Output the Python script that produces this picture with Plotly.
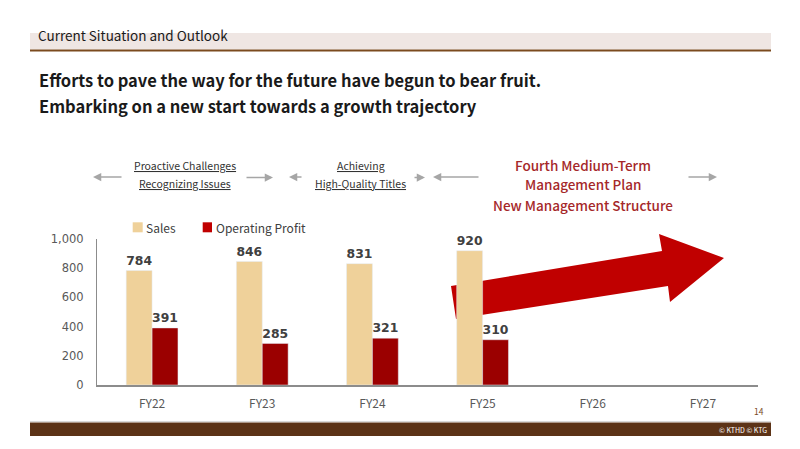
import plotly.graph_objects as go

categories = ["FY22", "FY23", "FY24", "FY25", "FY26", "FY27"]
sales = [784, 846, 831, 920, None, None]
operating_profit = [391, 285, 321, 310, None, None]
y_ticks = [0, 200, 400, 600, 800, 1000]
y_tick_labels = ["0", "200", "400", "600", "800", "1,000"]

W, H = 800, 449
L, R, T, B = 97, 758, 239, 385


def px(x):
    return (x - L) / (R - L)


def py(y):
    return (B - y) / (B - T)


JP = "Noto Sans CJK JP, Noto Sans, sans-serif"
NUM = "DejaVu Sans, Verdana, sans-serif"

SALES_C = "#EFD19A"
PROFIT_C = "#9B0000"
LEGEND_RED = "#C00000"
ARROW_RED = "#C00000"
BROWN = "#5C3317"
TEXT_RED = "#A5282A"
GRAY_ARROW = "#A6A6A6"

fig = go.Figure()
fig.add_trace(go.Bar(
    x=categories, y=sales, name="Sales", marker_color=SALES_C,
    text=[f"{v:,}" if v is not None else "" for v in sales], textposition="outside",
    textfont=dict(family=NUM, size=13.5, color="#404040", weight="bold"),
    cliponaxis=False, showlegend=False,
))
fig.add_trace(go.Bar(
    x=categories, y=operating_profit, name="Operating Profit", marker_color=PROFIT_C,
    text=[f"{v:,}" if v is not None else "" for v in operating_profit], textposition="outside",
    textfont=dict(family=NUM, size=13.5, color="#404040", weight="bold"),
    cliponaxis=False, showlegend=False,
))

shapes = []
annotations = []

# header band
shapes.append(dict(type="rect", xref="paper", yref="paper", x0=px(30), x1=px(771), y0=py(49.5), y1=py(33),
                   fillcolor="#EFE6E3", line_width=0, layer="below"))
shapes.append(dict(type="rect", xref="paper", yref="paper", x0=px(30), x1=px(771), y0=py(51.5), y1=py(49.5),
                   fillcolor="#7B4A1E", line_width=0, layer="below"))
annotations.append(dict(xref="paper", yref="paper", x=px(36), y=py(35), text="Current Situation and Outlook",
                        showarrow=False, xanchor="left", yanchor="middle",
                        font=dict(family=JP, size=13.5, color="#1a1a1a")))

# titles
annotations.append(dict(xref="paper", yref="paper", x=px(37), y=py(80),
                        text="<b>Efforts to pave the way for the future have begun to bear fruit.</b>",
                        showarrow=False, xanchor="left", yanchor="middle",
                        font=dict(family=JP, size=16.5, color="#1a1a1a")))
annotations.append(dict(xref="paper", yref="paper", x=px(37), y=py(106),
                        text="<b>Embarking on a new start towards a growth trajectory</b>",
                        showarrow=False, xanchor="left", yanchor="middle",
                        font=dict(family=JP, size=16.5, color="#1a1a1a")))

# phase labels
for txt, cx, cy in [("Proactive Challenges", 184.5, 165.5), ("Recognizing Issues", 184.5, 183),
                    ("Achieving", 360.5, 165.5), ("High-Quality Titles", 360, 183)]:
    annotations.append(dict(xref="paper", yref="paper", x=px(cx), y=py(cy), text=f"<u>{txt}</u>",
                            showarrow=False, xanchor="center", yanchor="middle",
                            font=dict(family=JP, size=10.5, color="#333333")))
for txt, cy in [("Fourth Medium-Term", 165), ("Management Plan", 184), ("New Management Structure", 205)]:
    annotations.append(dict(xref="paper", yref="paper", x=px(583), y=py(cy), text=txt,
                            showarrow=False, xanchor="center", yanchor="middle",
                            font=dict(family=JP, size=13.5, color=TEXT_RED, weight=500)))

# gray arrows: (head_x, tail_x, y)
for hx, tx, yy in [(93, 123, 177), (273, 245, 177.5), (289, 303, 177), (425, 413, 177.5),
                   (433, 480, 177), (717, 687, 177)]:
    annotations.append(dict(xref="paper", yref="paper", x=px(hx), y=py(yy),
                            ax=tx - hx, ay=0, axref="pixel", ayref="pixel",
                            text="", showarrow=True, arrowhead=2, arrowsize=1.1,
                            arrowwidth=1.5, arrowcolor=GRAY_ARROW))

# big red arrow
pts = [(451, 286), (662, 251), (659, 234), (724, 258), (670, 302), (668, 286), (456, 319)]
path = "M " + " L ".join(f"{px(x):.5f},{py(y):.5f}" for x, y in pts) + " Z"
shapes.append(dict(type="path", xref="paper", yref="paper", path=path,
                   fillcolor=ARROW_RED, line_width=0, layer="below"))

# manual legend
shapes.append(dict(type="rect", xref="paper", yref="paper", x0=px(132.7), x1=px(142.7), y0=py(232.3), y1=py(222.3),
                   fillcolor=SALES_C, line_width=0))
shapes.append(dict(type="rect", xref="paper", yref="paper", x0=px(202.7), x1=px(212), y0=py(232.3), y1=py(222.3),
                   fillcolor=LEGEND_RED, line_width=0))
annotations.append(dict(xref="paper", yref="paper", x=px(144), y=py(227.5), text="Sales",
                        showarrow=False, xanchor="left", yanchor="middle",
                        font=dict(family=JP, size=12, color="#404040")))
annotations.append(dict(xref="paper", yref="paper", x=px(213.5), y=py(227.5), text="Operating Profit",
                        showarrow=False, xanchor="left", yanchor="middle",
                        font=dict(family=JP, size=12, color="#404040")))

# footer
shapes.append(dict(type="line", xref="paper", yref="paper", x0=px(30), x1=px(771), y0=py(421.5), y1=py(421.5),
                   line=dict(color="#D9D9D9", width=1)))
shapes.append(dict(type="rect", xref="paper", yref="paper", x0=px(30), x1=px(771), y0=py(436), y1=py(422.5),
                   fillcolor=BROWN, line_width=0))
annotations.append(dict(xref="paper", yref="paper", x=px(769), y=py(429.5), text="© KTHD © KTG",
                        showarrow=False, xanchor="right", yanchor="middle",
                        font=dict(family=JP, size=7, color="#FFFFFF")))
annotations.append(dict(xref="paper", yref="paper", x=px(759), y=py(410.5), text="14",
                        showarrow=False, xanchor="center", yanchor="middle",
                        font=dict(family=JP, size=8.5, color="#7B4A1E")))

fig.update_layout(
    width=W, height=H,
    margin=dict(l=L, r=W - R, t=T, b=H - B, pad=0),
    paper_bgcolor="white", plot_bgcolor="rgba(0,0,0,0)",
    barmode="group", bargap=0.53, bargroupgap=0,
    shapes=shapes, annotations=annotations,
    showlegend=False,
    xaxis=dict(showline=True, linecolor="#8C8C8C", linewidth=1.5, showgrid=False, ticks="",
               tickfont=dict(family=JP, size=12, color="#595959"), ticklabelstandoff=7,
               fixedrange=True),
    yaxis=dict(range=[0, 1000], tickvals=y_ticks, ticktext=y_tick_labels, showline=True,
               linecolor="#8C8C8C", linewidth=1.2, showgrid=False, ticks="", zeroline=False,
               tickfont=dict(family=NUM, size=11.5, color="#595959"), ticklabelstandoff=10,
               fixedrange=True),
)

fig.write_html("out.html")
